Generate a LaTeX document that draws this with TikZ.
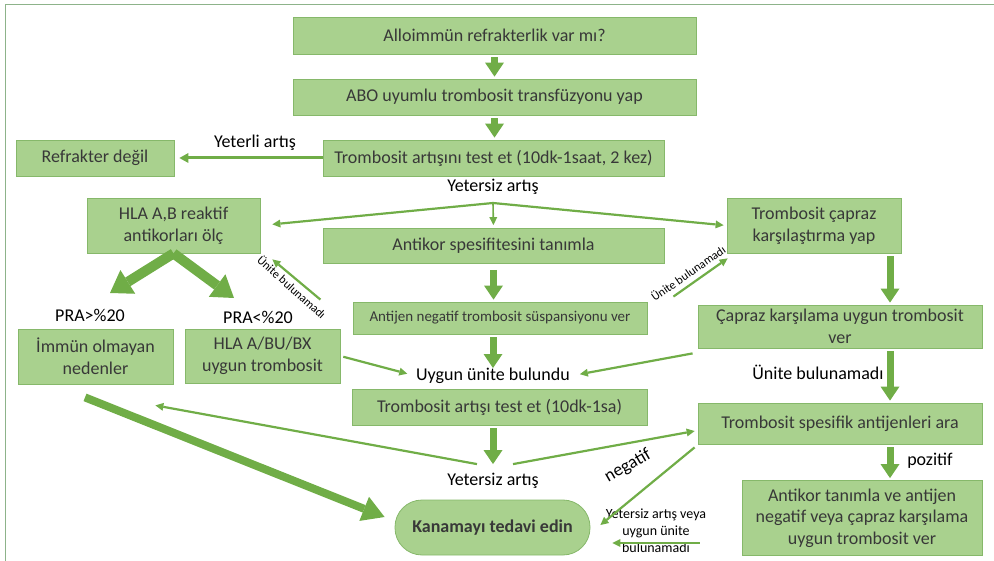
\documentclass[tikz,border=0pt]{standalone}
\usepackage{fontspec}
\setmainfont{Carlito}
\usetikzlibrary{arrows.meta,calc}
\definecolor{boxfill}{HTML}{A9D18E}
\definecolor{boxline}{HTML}{86B86A}
\definecolor{arr}{HTML}{70AD47}
\definecolor{framecol}{HTML}{8DB38A}
\definecolor{boxtext}{HTML}{383838}
\begin{document}
\begin{tikzpicture}[x=1pt,y=-1pt,
  box/.style={draw=boxline, line width=0.8pt, fill=boxfill, inner sep=0pt, align=center, text=boxtext, font=\fontsize{18}{21.6}\selectfont},
  lbl/.style={inner sep=0pt, align=center, font=\fontsize{18}{21.6}\selectfont, text=black},
  small/.style={lbl, font=\fontsize{12}{14}\selectfont},
  fat/.style={draw=arr, line width=7pt, shorten <=3pt, shorten >=2pt, -{Triangle[width=19pt,length=14pt,line width=0pt]}},
  fatter/.style={draw=arr, line width=10pt, -{Triangle[width=28pt,length=21pt,line width=0pt]}},
  bigdiag/.style={draw=arr, line width=8pt, -{Triangle[width=26pt,length=22pt,line width=0pt]}},
  slim/.style={draw=arr, line width=2.2pt, -{Triangle[width=8pt,length=8pt,line width=0pt]}},
]
\useasboundingbox (0,0) rectangle (994,561);
\draw[framecol, line width=1.5pt] (5.5,561) -- (5.5,4.5) -- (994,4.5);

% nodes
\node[box, minimum width=403pt, minimum height=37pt] (n1) at (494.5,35.5) {Alloimmün refrakterlik var mı?};
\node[box, minimum width=403pt, minimum height=36pt] (n2) at (494.5,97) {ABO uyumlu trombosit transfüzyonu yap};
\node[box, minimum width=341pt, minimum height=36pt] (n3) at (493.5,158) {Trombosit artışını test et (10dk-1saat, 2 kez)};
\node[box, minimum width=158pt, minimum height=36pt] (ref) at (95,158) {Refrakter değil};
\node[lbl] (yeterli) at (255,143) {Yeterli artış};
\node[lbl] (yet1) at (493,187) {Yetersiz artış};
\coordinate (br) at (493,203);
\node[box, minimum width=173pt, minimum height=55pt] (hla) at (173.5,225.5) {HLA A,B reaktif\\antikorları ölç};
\node[box, minimum width=341pt, minimum height=35pt] (ant) at (493.5,246) {Antikor spesifitesini tanımla};
\node[box, minimum width=174pt, minimum height=55pt] (capraz) at (814,225.5) {Trombosit çapraz\\karşılaştırma yap};
\node[lbl] (pra1) at (90,315) {PRA>\%20};
\node[lbl] (pra2) at (258,317) {PRA<\%20};
\node[box, minimum width=155pt, minimum height=55pt] (imm) at (95.5,356.5) {İmmün olmayan\\nedenler};
\node[box, minimum width=155pt, minimum height=54pt] (hlab) at (262.5,356) {HLA A/BU/BX\\uygun trombosit};
\node[box, font=\fontsize{15}{18}\selectfont, minimum width=294pt, minimum height=32pt] (antij) at (500,318) {Antijen negatif trombosit süspansiyonu ver};
\node[box, minimum width=284pt, minimum height=43pt] (ck) at (840,326.5) {Çapraz karşılama uygun trombosit\\ver};
\node[lbl] (uyg) at (493,376) {Uygun ünite bulundu};
\node[box, minimum width=295pt, minimum height=36pt] (tat) at (499.5,407) {Trombosit artışı test et (10dk-1sa)};
\node[lbl] (un2) at (818,372) {Ünite bulunamadı};
\node[box, minimum width=284pt, minimum height=41pt] (tsa) at (840,423.5) {Trombosit spesifik antijenleri ara};
\node[lbl] (poz) at (930,461) {pozitif};
\node[box, minimum width=240pt, minimum height=75pt] (atv) at (862,518) {Antikor tanımla ve antijen\\negatif veya çapraz karşılama\\uygun trombosit ver};
\node[lbl] (yet2) at (493,481) {Yetersiz artış};
\node[box, rounded corners=27pt, minimum width=195pt, minimum height=55pt, font=\bfseries\fontsize{18}{21.6}\selectfont] (kan) at (492.5,527.5) {Kanamayı tedavi edin};
\node[lbl, font=\fontsize{14}{17}\selectfont] (lab) at (656,531) {Yetersiz artış veya\\uygun ünite\\bulunamadı};
\node[small, rotate=-42] (ub1) at (292,287) {Ünite bulunamadı};
\node[small, rotate=35] (ub2) at (688,273) {Ünite bulunamadı};
\node[lbl, rotate=30] (neg) at (628,466) {negatif};

\coordinate (rcol) at (890,0);
\coordinate (t1) at (110,293);
\coordinate (t2) at (234,298);

% connectors
\draw[fat] (n1.south) -- (n2.north);
\draw[fat] (n2.south) -- (n2.south |- n3.north);
\draw[slim, line width=3pt, -{Triangle[width=10pt,length=9pt,line width=0pt]}, shorten >=5pt] (n3.west) -- (ref.east);
\draw[slim, shorten >=12pt] (br) -- (hla.east);
\draw[slim, line width=1.6pt, shorten >=3pt] (br) -- (ant.north);
\draw[slim, shorten >=3pt] (br) -- (capraz.west);
\draw[fatter] (hla.south) -- (t1);
\draw[fatter] (hla.south) -- (t2);
\draw[slim] ([xshift=-20pt,yshift=29pt]hlab.north east) -- ([xshift=12pt,yshift=-6pt]hla.south east);
\draw[fat, shorten <=6pt] (ant.south) -- (ant.south |- antij.north);
\draw[fat, shorten >=0pt] (antij.south -| uyg) -- (uyg.north);
\draw[slim, shorten <=3pt, shorten >=9pt] (hlab.east) -- (uyg.west);
\draw[slim, shorten >=10pt] ([xshift=-5pt,yshift=-5pt]ck.south west) -- (uyg.east);
\draw[slim] ([xshift=26pt,yshift=5pt]antij.north east) -- ([xshift=1pt,yshift=-5pt]capraz.south west);
\draw[fat] (capraz.south -| rcol) -- (ck.north -| rcol);
\draw[fat] (ck.south -| rcol) -- (tsa.north -| rcol);
\draw[fat] (tsa.south -| rcol) -- (atv.north -| rcol);
\draw[fat, shorten >=9pt] (tat.south -| yet2) -- (yet2.north);
\draw[slim] ([xshift=-16pt,yshift=9pt]yet2.north) -- ([xshift=-18pt,yshift=-21pt]imm.south east);
\draw[slim, shorten >=3pt] ([xshift=20pt,yshift=9pt]yet2.north) -- ([yshift=-7pt]tsa.west);
\draw[bigdiag] ([xshift=-10.5pt,yshift=-13pt]imm.south) -- ([xshift=-10pt,yshift=10.5pt]kan.west);
\draw[slim] ([xshift=-3pt,yshift=-3pt]tsa.south west) -- ([xshift=10pt,yshift=2.5pt]kan.east);
\draw[slim] ([xshift=-42pt,yshift=-25pt]atv.west) -- ([xshift=22pt,yshift=-15.5pt]kan.east);
\end{tikzpicture}
\end{document}
